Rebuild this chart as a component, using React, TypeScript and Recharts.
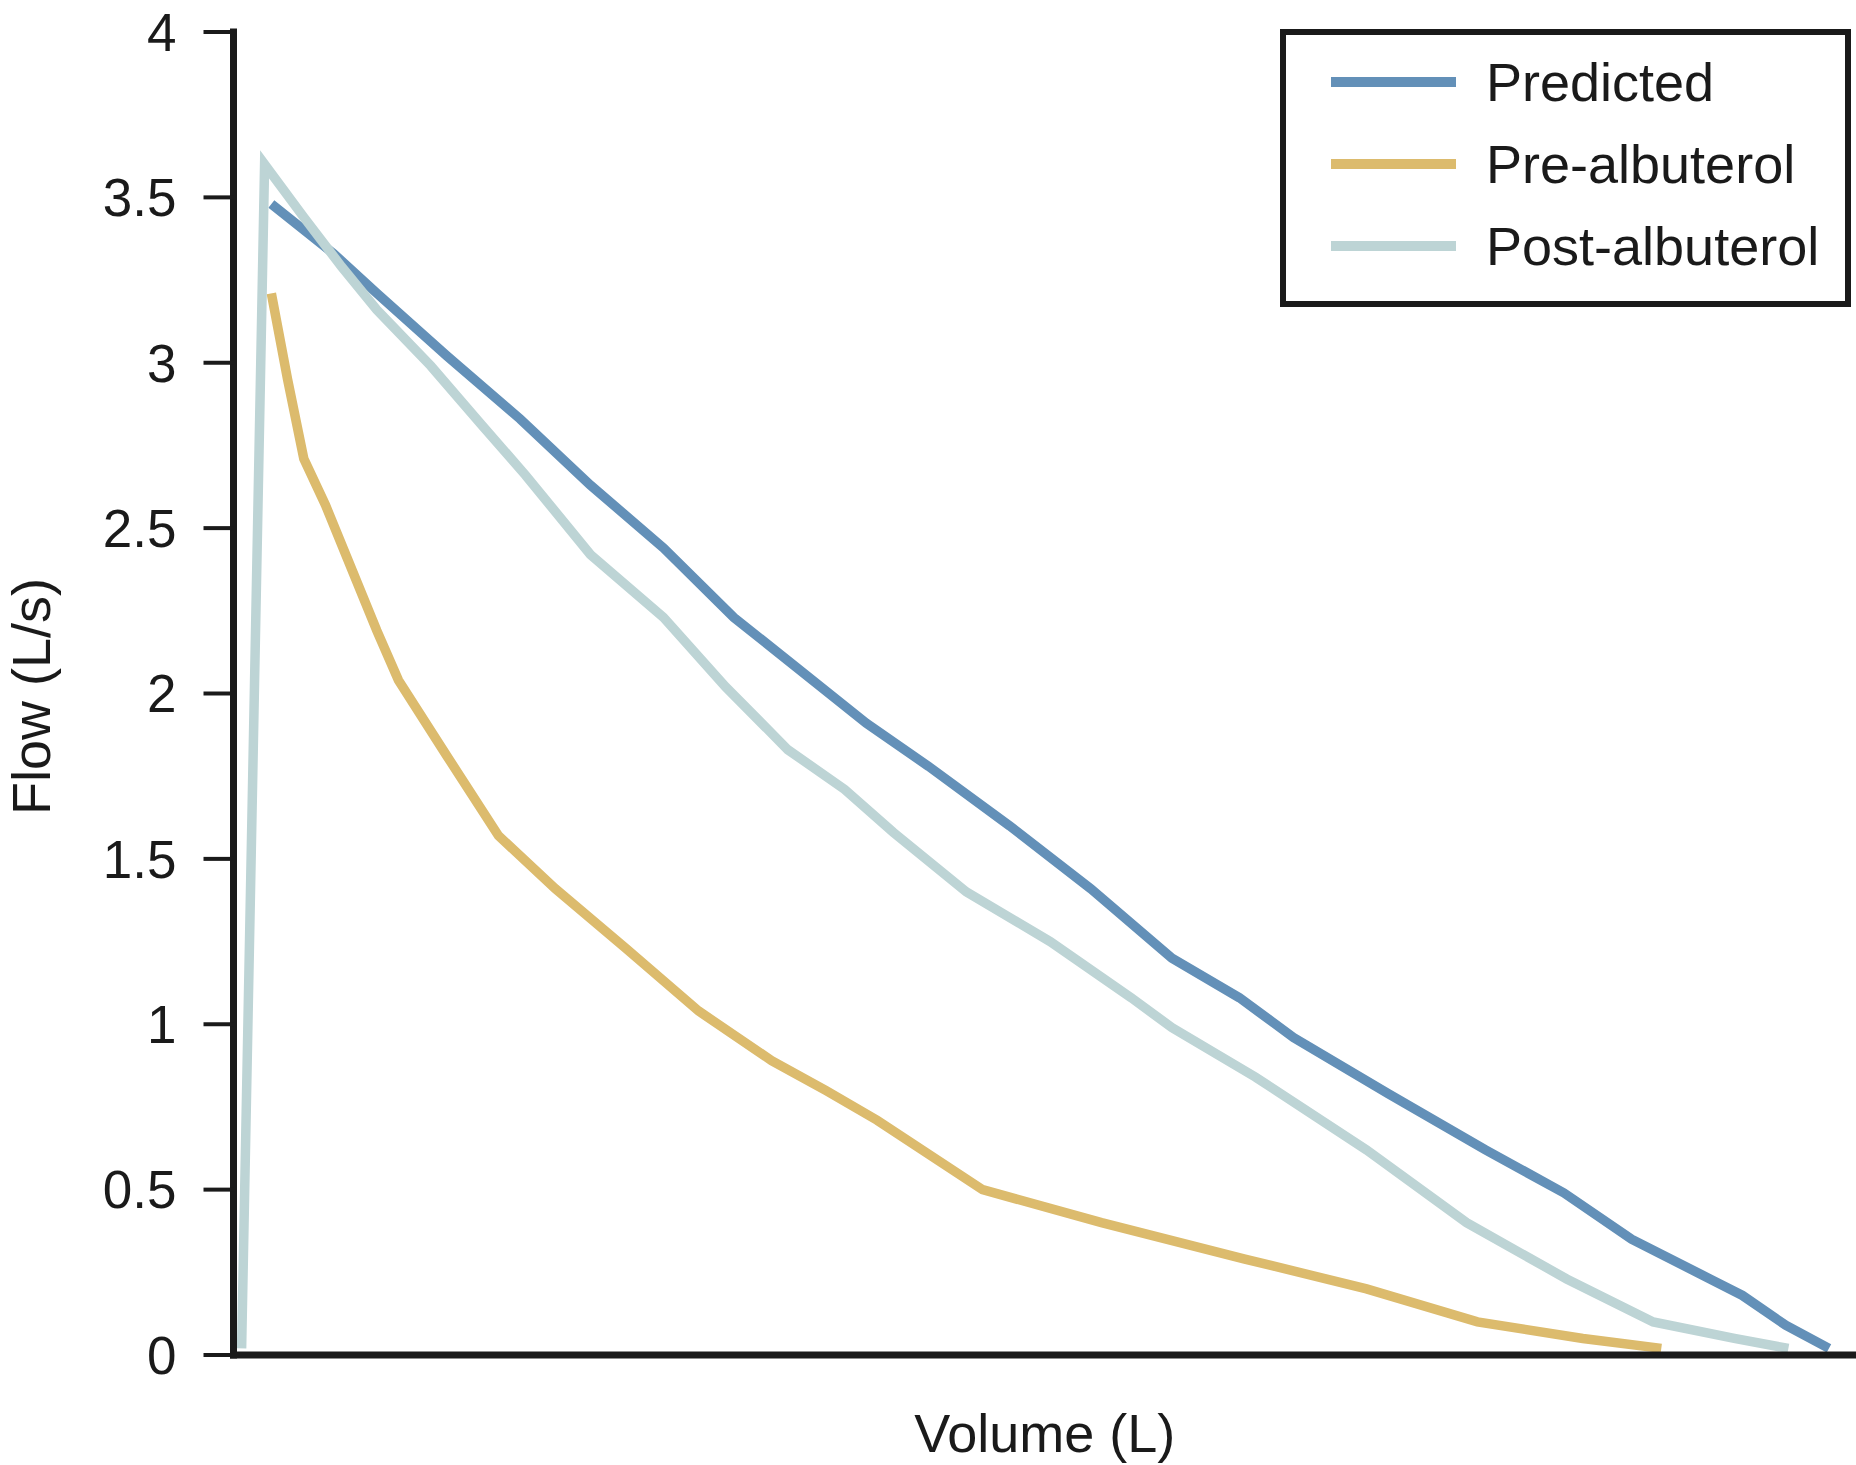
import React from 'react';
import { LineChart, Line, XAxis, YAxis, Legend } from 'recharts';

// [volume (L), flow (L/s)]
const predicted = [
  [0.14, 3.48], [0.37, 3.33], [0.53, 3.21], [0.79, 3.02], [1.06, 2.83], [1.32, 2.63],
  [1.59, 2.44], [1.85, 2.23], [2.08, 2.08], [2.34, 1.91], [2.57, 1.78], [2.87, 1.6],
  [3.17, 1.41], [3.47, 1.2], [3.72, 1.08], [3.92, 0.96], [4.27, 0.79], [4.63, 0.62],
  [4.92, 0.49], [5.17, 0.35], [5.46, 0.23], [5.58, 0.18], [5.74, 0.09], [5.9, 0.02],
];

const preAlbuterol = [
  [0.14, 3.21], [0.2, 2.95], [0.26, 2.71], [0.34, 2.57], [0.42, 2.41], [0.53, 2.19],
  [0.61, 2.04], [0.79, 1.81], [0.98, 1.57], [1.19, 1.41], [1.45, 1.23], [1.72, 1.04],
  [1.99, 0.89], [2.19, 0.8], [2.38, 0.71], [2.77, 0.5], [3.21, 0.4], [3.74, 0.29],
  [4.19, 0.2], [4.6, 0.1], [4.99, 0.05], [5.28, 0.02],
];

const postAlbuterol = [
  [0.03, 0.02], [0.115, 3.6], [0.26, 3.44], [0.4, 3.29], [0.53, 3.16], [0.73, 2.99],
  [0.92, 2.81], [1.08, 2.66], [1.32, 2.42], [1.59, 2.23], [1.82, 2.02], [2.05, 1.83],
  [2.26, 1.71], [2.44, 1.58], [2.71, 1.4], [3.02, 1.25], [3.32, 1.08], [3.47, 0.99],
  [3.78, 0.84], [4.19, 0.62], [4.56, 0.4], [4.93, 0.23], [5.25, 0.1], [5.55, 0.05],
  [5.75, 0.02],
];

const flowTicks = [0, 0.5, 1, 1.5, 2, 2.5, 3, 3.5, 4];

const FONT = '"Liberation Sans", Arial, Helvetica, sans-serif';
const INK = '#1a1a1a';

const toPoints = (rows: number[][]) => rows.map(([v, f]) => ({ v, f }));

const series = [
  { name: 'Predicted', color: '#6390b8', rows: predicted },
  { name: 'Pre-albuterol', color: '#dcbb6d', rows: preAlbuterol },
  { name: 'Post-albuterol', color: '#bdd4d5', rows: postAlbuterol },
];
const seriesOrder = series.map((s) => s.name);

const BoxLegend = (props: any) => {
  const items = [...(props.payload || [])].sort(
    (a: any, b: any) => seriesOrder.indexOf(a.value) - seriesOrder.indexOf(b.value)
  );
  return (
    <div
      style={{
        boxSizing: 'border-box',
        width: 571,
        height: 278,
        border: `6px solid ${INK}`,
        background: '#fff',
        paddingTop: 6,
        fontFamily: FONT,
      }}
    >
      {items.map((entry: any) => (
        <div key={entry.value} style={{ display: 'flex', alignItems: 'center', height: 82 }}>
          <div style={{ marginLeft: 45, width: 125, height: 10, background: entry.color }} />
          <span style={{ marginLeft: 30, fontSize: 54, color: INK, lineHeight: 1 }}>{entry.value}</span>
        </div>
      ))}
    </div>
  );
};

const YLabel = (props: any) => {
  const { viewBox } = props;
  const x = viewBox.x + 50;
  const y = viewBox.y + viewBox.height / 2 + 3;
  return (
    <text x={x} y={y} transform={`rotate(-90, ${x}, ${y})`} textAnchor="middle"
      fontSize={54} fontFamily={FONT} fill={INK}>
      Flow (L/s)
    </text>
  );
};

const XLabel = (props: any) => {
  const { viewBox } = props;
  return (
    <text x={viewBox.x + viewBox.width / 2} y={viewBox.y + 97} textAnchor="middle"
      fontSize={54} fontFamily={FONT} fill={INK}>
      Volume (L)
    </text>
  );
};

export default function App() {
  return (
    <div style={{ position: 'absolute', left: 0, top: 0, width: 1856, height: 1465, background: '#fff' }}>
      <LineChart width={1856} height={1465} margin={{ top: 32, right: 0, bottom: 0, left: 0 }}>
        <XAxis
          type="number"
          dataKey="v"
          domain={[0, 6]}
          tick={false}
          tickLine={false}
          height={110}
          axisLine={{ stroke: INK, strokeWidth: 7, strokeLinecap: 'square' }}
          label={<XLabel />}
        />
        <YAxis
          type="number"
          dataKey="f"
          domain={[0, 4]}
          ticks={flowTicks}
          interval={0}
          width={233.5}
          tickSize={30}
          tickMargin={27}
          tick={{ fontSize: 53, fontFamily: FONT, fill: INK }}
          tickLine={{ stroke: INK, strokeWidth: 4 }}
          axisLine={{ stroke: INK, strokeWidth: 7, strokeLinecap: 'square' }}
          label={<YLabel />}
        />
        {series.map((s) => (
          <Line
            key={s.name}
            data={toPoints(s.rows)}
            dataKey="f"
            name={s.name}
            type="linear"
            stroke={s.color}
            strokeWidth={9.5}
            dot={false}
            activeDot={false}
            isAnimationActive={false}
          />
        ))}
        <Legend
          layout="horizontal"
          verticalAlign="middle"
          align="center"
          content={<BoxLegend />}
          wrapperStyle={{ position: 'absolute', left: 1280, top: 29, width: 571, height: 278 }}
        />
      </LineChart>
    </div>
  );
}
